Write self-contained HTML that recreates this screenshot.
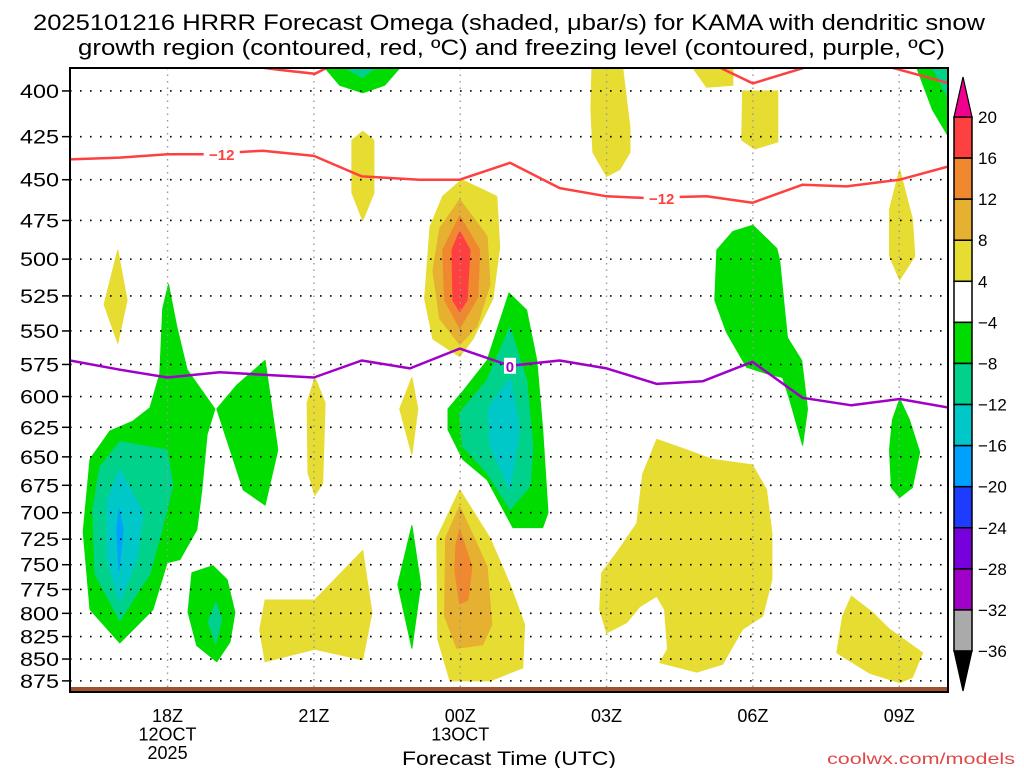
<!DOCTYPE html>
<html><head><meta charset="utf-8"><style>
html,body{margin:0;padding:0;background:#fff;}
svg{display:block;font-family:"Liberation Sans",sans-serif;}
</style></head><body>
<svg id="chart" width="1024" height="768" viewBox="0 0 1024 768" xmlns="http://www.w3.org/2000/svg">
<text x="33" y="30" font-size="22" textLength="952" lengthAdjust="spacingAndGlyphs">2025101216 HRRR Forecast Omega (shaded, μbar/s) for KAMA with dendritic snow</text>
<text x="78" y="55" font-size="22" textLength="867" lengthAdjust="spacingAndGlyphs">growth region (contoured, red, ºC) and freezing level (contoured, purple, ºC)</text>
<defs><clipPath id="pc"><rect x="70" y="68" width="878" height="624"/></clipPath></defs>
<g id="plot" clip-path="url(#pc)"></g>
<g id="axes"></g>
<g id="cbar"></g>
<text x="509" y="765" font-size="19" text-anchor="middle" textLength="214" lengthAdjust="spacingAndGlyphs">Forecast Time (UTC)</text>
<text x="1015" y="764" font-size="16" fill="#e04848" text-anchor="end" textLength="188" lengthAdjust="spacingAndGlyphs">coolwx.com/models</text>
</svg>
<script>
// ---- data (hours since 16Z, pressure hPa) ----
const hourMin = 0, hourMax = 18, pTop = 388, pBot = 888;
const pressureTicks = [400,425,450,475,500,525,550,575,600,625,650,675,700,725,750,775,800,825,850,875];
const timeTicks = [2,5,8,11,14,17];
const timeLabels = [["18Z","12OCT","2025"],["21Z"],["00Z","13OCT"],["03Z"],["06Z"],["09Z"]];
const levelBounds = [20,16,12,8,4,-4,-8,-12,-16,-20,-24,-28,-32,-36];
const levelColors = ["#ff4040","#f08830","#e6b030","#e6dc32","#ffffff","#00dc00","#00d28c","#00c8c8","#00a0ff","#1e3cff","#7800dc","#a000c8","#aaaaaa"];
const greenAreas = [
 [[2.02,517],[2.19,547],[2.40,579],[2.97,610],[2.81,631],[2.70,680],[2.60,716],[2.25,745],[1.99,748],[1.70,796],[1.02,832],[0.41,796],[0.27,718],[0.41,652],[0.82,628],[1.29,620],[1.64,609],[1.84,582],[1.90,534]],
 [[4.0,572],[4.26,644],[4.0,693],[3.55,679],[3.01,610],[3.42,591]],
 [[2.93,751],[3.22,765],[3.38,799],[3.28,831],[3.01,853],[2.60,835],[2.42,799],[2.50,758]],
 [[5.23,388],[6.76,388],[6.45,397],[6.0,401],[5.53,397]],
 [[9.0,523],[9.36,535],[9.57,572],[9.69,627],[9.80,700],[9.69,714],[9.08,714],[8.55,670],[8.05,652],[7.75,627],[7.75,610],[8.05,596],[8.55,572]],
 [[7.01,712],[7.19,770],[7.01,838],[6.72,770]],
 [[17.36,388],[18.03,388],[18.03,426],[17.68,410]],
 [[14.0,478],[14.49,493],[14.55,501],[14.65,535],[14.71,555],[15.0,572],[15.12,610],[15.02,640],[14.75,602],[14.61,585],[14.28,582],[13.87,577],[13.46,551],[13.22,528],[13.26,494],[13.59,482]],
 [[17.01,602],[17.21,619],[17.42,646],[17.27,677],[17.01,686],[16.84,677],[16.80,644],[16.86,619]]
];
const tealAreas = [
 [[1.02,637],[1.99,644],[2.11,675],[1.91,711],[1.64,759],[1.02,808],[0.51,759],[0.47,697],[0.61,659]],
 [[2.99,788],[3.11,807],[2.99,833],[2.83,809]],
 [[5.64,388],[6.25,388],[6.0,393]],
 [[9.02,547],[9.36,587],[9.49,641],[9.43,676],[9.02,697],[8.55,664],[8.05,641],[7.99,614],[8.05,610],[8.55,587]],
 [[17.68,388],[18.03,388],[18.03,405],[17.93,400]]
];
const cyanAreas = [
 [[1.02,661],[1.50,700],[1.37,745],[1.02,788],[0.76,745],[0.76,689]],
 [[9.02,585],[9.22,627],[9.02,679],[8.61,641],[8.57,610]]
];
const blueAreas = [ [[1.0,696],[1.09,716],[1.0,756],[0.96,716]] ];
const yellowAreas = [
 [[0.98,494],[1.17,528],[0.98,559],[0.70,531]],
 [[5.02,585],[5.23,605],[5.18,673],[5.02,684],[4.88,664],[4.86,605]],
 [[4.0,786],[5.02,786],[6.0,736],[6.19,799],[6.0,851],[5.02,839],[4.0,853],[3.89,818]],
 [[5.78,427],[6.0,422],[6.23,427],[6.23,458],[6.0,475],[5.78,458]],
 [[8.03,450],[8.75,460],[8.81,492],[8.67,527],[8.26,556],[7.99,569],[7.44,556],[7.27,527],[7.38,479],[7.64,460]],
 [[7.01,585],[7.13,610],[7.01,648],[6.76,610]],
 [[7.99,679],[8.61,724],[9.02,770],[9.32,812],[9.28,860],[8.61,875],[7.79,875],[7.54,828],[7.52,724]],
 [[10.70,388],[11.33,388],[11.48,420],[11.48,434],[11.27,444],[11.0,448],[10.72,434],[10.68,410]],
 [[12.77,388],[13.59,388],[13.59,397],[13.05,398]],
 [[13.79,400],[14.51,400],[14.51,428],[14.04,432],[13.77,427]],
 [[17.01,444],[17.27,474],[17.32,498],[17.01,514],[16.80,498],[16.80,468]],
 [[12.03,635],[12.64,644],[13.16,652],[13.99,657],[14.28,679],[14.39,719],[14.39,765],[14.20,803],[13.79,817],[13.38,856],[12.85,865],[12.09,854],[12.25,839],[12.19,796],[12.03,782],[11.68,793],[11.41,810],[11.0,821],[10.86,796],[10.90,758],[11.21,738],[11.62,710],[11.74,665]],
 [[16.02,782],[16.45,799],[16.80,817],[17.48,843],[17.27,871],[17.01,877],[16.39,866],[15.72,843],[15.84,803]]
];
const goldAreas = [
 [[7.99,462],[8.55,485],[8.61,517],[8.34,547],[7.99,560],[7.58,541],[7.44,508],[7.58,480]],
 [[7.99,694],[8.55,752],[8.65,812],[8.46,834],[7.93,838],[7.68,803],[7.70,724]]
];
const orangeAreas = [
 [[7.99,472],[8.40,494],[8.36,526],[7.99,548],[7.68,528],[7.64,494]],
 [[7.99,716],[8.24,752],[8.16,786],[7.99,790],[7.89,756],[7.91,731]]
];
const redAreas = [ [[7.99,482],[8.20,494],[8.14,528],[7.99,536],[7.85,528],[7.83,494]] ];
const dgzLine = [[0,438],[1.02,437],[2.0,435],[2.73,435],[3.95,433],[5.0,436],[5.98,448],[7.17,450],[7.99,450],[9.02,440],[10.04,455],[11.0,460],[11.74,461],[13.05,460],[13.99,464],[15.02,453],[15.92,454],[17.01,450],[18.03,442]];
const dgzTopLines = [
 [[3.69,387],[4.3,389],[5.02,391],[5.33,387]],
 [[13.26,387],[14.0,396],[15.16,387]],
 [[16.74,387],[18.03,396]]
];
const dgzLabels = [[3.11,435],[12.13,461]];
const freezeLine = [[0,572],[1.02,579],[2.0,585],[3.07,581],[5.0,585],[5.98,572],[6.97,578],[7.99,563],[9.02,576],[10.04,572],[11.0,578],[12.03,590],[12.97,588],[13.99,573],[15.02,601],[16.02,607],[17.01,602],[18.03,609]];
const freezeLabels = [[9.02,576]];

// ---- axis functions ----
const X0=70, X1=948, Y0=68, Y1=692;
const xs = h => X0 + (h-hourMin)/(hourMax-hourMin)*(X1-X0);
const ys = p => Y0 + Math.log(p/pTop)/Math.log(pBot/pTop)*(Y1-Y0);
const NS="http://www.w3.org/2000/svg";
function mk(tag, attrs, parent){const e=document.createElementNS(NS,tag);for(const k in attrs)e.setAttribute(k,attrs[k]);parent.appendChild(e);return e;}
const plot=document.getElementById('plot'), axes=document.getElementById('axes'), cbar=document.getElementById('cbar');
const pts = arr => arr.map(d=>xs(d[0]).toFixed(1)+','+ys(d[1]).toFixed(1)).join(' ');

function drawAreas(list, color, name){
  list.forEach((a,i)=>{
    const e=mk('polygon',{points:pts(a),fill:color,stroke:color,'stroke-width':1,'stroke-linejoin':'round'},plot);
    
    
  });
}
drawAreas(greenAreas,'#00dc00','omega-green');
drawAreas(tealAreas,'#00d28c','omega-teal');
drawAreas(cyanAreas,'#00c8c8','omega-cyan');
drawAreas(blueAreas,'#00a0ff','omega-blue');
drawAreas(yellowAreas,'#e6dc32','omega-yellow');
drawAreas(goldAreas,'#e6b030','omega-gold');
drawAreas(orangeAreas,'#f08830','omega-orange');
drawAreas(redAreas,'#ff4040','omega-red');

// ground
const g=mk('rect',{x:X0,y:687,width:X1-X0,height:6,fill:'#a0522d'},plot);



// grid
pressureTicks.forEach(p=>{
  const y=ys(p);
  const l=mk('line',{x1:X0,x2:X1,y1:y,y2:y,stroke:'#000','stroke-width':1.6,'stroke-dasharray':'1.6 8.4'},plot);
  
  
});
timeTicks.forEach(h=>{
  const x=xs(h);
  const l=mk('line',{x1:x,x2:x,y1:Y0,y2:Y1,stroke:'#999','stroke-width':1.4,'stroke-dasharray':'1.5 5'},plot);
  
  
});

// lines
const rl=mk('polyline',{points:pts(dgzLine),fill:'none',stroke:'#ff4040','stroke-width':2.5,'stroke-linejoin':'round'},plot);


dgzTopLines.forEach(a=>{
  const e=mk('polyline',{points:pts(a),fill:'none',stroke:'#ff4040','stroke-width':2.5},plot);
  
  
});
const pl=mk('polyline',{points:pts(freezeLine),fill:'none',stroke:'#a000c8','stroke-width':2.5,'stroke-linejoin':'round'},plot);


dgzLabels.forEach(d=>{
  const bg=mk('rect',{x:xs(d[0])-18,y:ys(d[1])-8,width:36,height:16,fill:'#fff'},plot);
  
  
  const t=mk('text',{x:xs(d[0]),y:ys(d[1])+6,'text-anchor':'middle','font-size':15,'font-weight':'bold',fill:'#ff4040'},plot);
  t.textContent='−12';
  
  
});
freezeLabels.forEach(d=>{
  const bg=mk('rect',{x:xs(d[0])-6,y:ys(d[1])-8,width:12,height:16,fill:'#fff'},plot);
  
  
  const t=mk('text',{x:xs(d[0]),y:ys(d[1])+6,'text-anchor':'middle','font-size':15,'font-weight':'bold',fill:'#a000c8'},plot);
  t.textContent='0';
  
  
});

// frame & ticks
const fr=mk('rect',{x:X0,y:Y0,width:X1-X0,height:Y1-Y0,fill:'none',stroke:'#000','stroke-width':2},axes);


pressureTicks.forEach(p=>{
  const y=ys(p);
  const tk=mk('line',{x1:62,x2:X0,y1:y,y2:y,stroke:'#000','stroke-width':1.5},axes);
  
  
  const t=mk('text',{x:59,y:y+7,'text-anchor':'end','font-size':19,textLength:39,lengthAdjust:'spacingAndGlyphs'},axes);
  t.textContent=p;
  
  
});
timeTicks.forEach((h,i)=>{
  const x=xs(h);
  timeLabels[i].forEach((s,j)=>{
    const t=mk('text',{x:x,y:722+j*18.5,'text-anchor':'middle','font-size':18},axes);
    t.textContent=s;
    
    
  });
});

// colorbar
const CB0=117, CBstep=(651-117)/(levelBounds.length-1), cbx=954, cbw=18;
levelColors.forEach((c,i)=>{
  const r=mk('rect',{x:cbx,y:CB0+i*CBstep,width:cbw,height:CBstep,fill:c,stroke:'#000','stroke-width':1.5},cbar);
  
  
});
const tu=mk('polygon',{points:`${cbx},${CB0} ${cbx+cbw},${CB0} ${cbx+cbw/2},${CB0-40}`,fill:'#f0008c',stroke:'#000','stroke-width':1.2},cbar);


const yb=CB0+levelColors.length*CBstep;
const td=mk('polygon',{points:`${cbx},${yb} ${cbx+cbw},${yb} ${cbx+cbw/2},${yb+40}`,fill:'#000',stroke:'#000','stroke-width':1.2},cbar);


levelBounds.forEach((v,i)=>{
  const t=mk('text',{x:978,y:CB0+i*CBstep+6,'font-size':17},cbar);
  t.textContent=v<0?'−'+(-v):String(v);
  
  
});
</script>
</body></html>
